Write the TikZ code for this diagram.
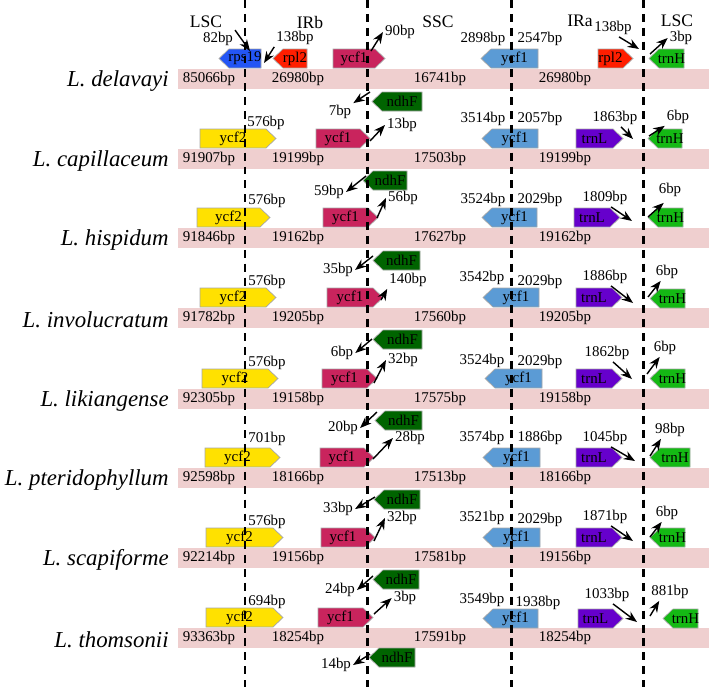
\documentclass[tikz,border=0pt]{standalone}
\usepackage{fontspec}
\setmainfont{Liberation Serif}
\usetikzlibrary{arrows.meta}

\definecolor{rpsblue}{RGB}{35,85,245}
\definecolor{rplred}{RGB}{255,30,0}
\definecolor{ycfred}{RGB}{201,36,93}
\definecolor{ycfblue}{RGB}{91,155,213}
\definecolor{ycftwo}{RGB}{255,225,0}
\definecolor{trnpurple}{RGB}{102,0,204}
\definecolor{trngreen}{RGB}{20,185,20}
\definecolor{ndhgreen}{RGB}{0,100,0}
\definecolor{barpink}{RGB}{239,207,207}

\tikzset{
    genebox/.style={draw=gray!70, line width=0.4pt},
    genetext/.style={font=\fontsize{8.5}{9}\selectfont, inner sep=0pt},
    bp/.style={font=\fontsize{8.5}{10}\selectfont, inner sep=1pt},
    region/.style={font=\fontsize{10}{12}\selectfont},
    species/.style={font=\fontsize{13}{15}\selectfont\itshape, anchor=east, inner sep=0pt},
    bparrow/.style={-{Stealth[length=6.5pt,width=5pt]}, line width=0.8pt},
    border/.style={line width=1.7pt, dash pattern=on 4.5pt off 3.4pt},
}

% gene pointing right: name, x left, x right, y top, colour, text
\newcommand{\geneR}[6]{%
    \draw[genebox, fill=#5] (#2,#4) -- ({#3-10},#4) -- (#3,{#4+9.5}) -- ({#3-10},{#4+19}) -- (#2,{#4+19}) -- cycle;
    \node[genetext] (#1) at ({(#2+#3-10)/2},{#4+9.5}) {#6};
}
% gene pointing left
\newcommand{\geneL}[6]{%
    \draw[genebox, fill=#5] (#3,#4) -- ({#2+10},#4) -- (#2,{#4+9.5}) -- ({#2+10},{#4+19}) -- (#3,{#4+19}) -- cycle;
    \node[genetext] (#1) at ({(#2+10+#3)/2},{#4+9.5}) {#6};
}

\begin{document}
\begin{tikzpicture}[x=0.02cm, y=-0.02cm]
    \useasboundingbox (0,0) rectangle (709,687);

    % genome bars and species
    \foreach \y/\sp in {79/delavayi, 159/capillaceum, 238/hispidum, 318/involucratum,
                        399/likiangense, 478/pteridophyllum, 558/scapiforme, 638/thomsonii} {
        \fill[barpink] (178,{\y-10}) rectangle (709,{\y+10});
        \node[species] (sp\y) at (169,{\y+2}) {L. \sp};
    }
    % region lengths
    \foreach \y/\a/\b/\c/\d in {79/85066/26980/16741/26980, 159/91907/19199/17503/19199,
                                238/91846/19162/17627/19162, 318/91782/19205/17560/19205,
                                399/92305/19158/17575/19158, 478/92598/18166/17513/18166,
                                558/92214/19156/17581/19156, 638/93363/18254/17591/18254} {
        \node[bp] (lsc\y) at (209,\y) {\a bp};
        \node[bp] (irb\y) at (298,\y) {\b bp};
        \node[bp] (ssc\y) at (440,\y) {\c bp};
        \node[bp] (ira\y) at (565,\y) {\d bp};
    }

    % region names
    \node[region] (hlsca) at (206,22) {LSC};
    \node[region] (hirb) at (310,22) {IRb};
    \node[region] (hssc) at (438,22) {SSC};
    \node[region] (hira) at (580,21) {IRa};
    \node[region] (hlscb) at (677,21) {LSC};

    % L. delavayi
    \geneL{r1rps}{219}{261}{49}{rpsblue}{rps19}
    \geneL{r1rplb}{273}{307}{49}{rplred}{rpl2}
    \geneR{r1ycfb}{333}{385}{49}{ycfred}{ycf1}
    \geneL{r1ycfa}{481}{538}{49}{ycfblue}{ycf1}
    \geneR{r1rpla}{598}{633}{49}{rplred}{rpl2}
    \geneL{r1trnH}{649}{684}{49}{trngreen}{trnH}
    \geneL{r1ndhF}{372}{422}{92}{ndhgreen}{ndhF}
    \node[bp] (r1jlb) at (218,39) {82bp};
    \coordinate (r1tlb) at (250,51);
    \draw[bparrow] (r1jlb.north east) -- (r1tlb);
    \node[bp] (r1jbx) at (295,38) {138bp};
    \coordinate (r1tbx) at (264,63);
    \draw[bparrow] (r1jbx.south west) -- (r1tbx);
    \node[bp] (r1jbs) at (400,32) {90bp};
    \coordinate (r1tbs) at (371,51);
    \draw[bparrow] (r1tbs) -- (r1jbs.west);
    \node[bp] (r1jsn) at (340,112) {7bp};
    \coordinate (r1tsn) at (370,92);
    \draw[bparrow] (r1tsn) -- (r1jsn.north east);
    \node[bp] (r1jsa) at (483,39) {2898bp};
    \node[bp] (r1jas) at (540,39) {2547bp};
    \node[bp] (r1jal) at (613,28) {138bp};
    \coordinate (r1tal) at (639,49);
    \draw[bparrow] ([xshift=0.12cm]r1jal.south) -- (r1tal);
    \node[bp] (r1jla) at (681,38) {3bp};
    \coordinate (r1tla) at (650,54);
    \draw[bparrow] (r1tla) -- (r1jla.west);

    % L. capillaceum
    \geneR{r2ycft}{200}{276}{129}{ycftwo}{ycf2}
    \geneR{r2ycfb}{316}{370}{129}{ycfred}{ycf1}
    \geneL{r2ycfa}{482}{538}{129}{ycfblue}{ycf1}
    \geneR{r2trnL}{576}{623}{129}{trnpurple}{trnL}
    \geneL{r2trnH}{648}{682}{129}{trngreen}{trnH}
    \geneL{r2ndhF}{363}{407}{171}{ndhgreen}{ndhF}
    \node[bp] (r2jlb) at (266,123) {576bp};
    \node[bp] (r2jbs) at (402,125) {13bp};
    \coordinate (r2tbs) at (370,141);
    \draw[bparrow] (r2tbs) -- (r2jbs.west);
    \node[bp] (r2jsn) at (329,192) {59bp};
    \coordinate (r2tsn) at (366,176);
    \draw[bparrow] (r2tsn) -- (r2jsn.east);
    \node[bp] (r2jsa) at (483,119) {3514bp};
    \node[bp] (r2jas) at (540,119) {2057bp};
    \node[bp] (r2jal) at (615,118) {1863bp};
    \coordinate (r2tal) at (633,139);
    \draw[bparrow] ([xshift=0.12cm]r2jal.south) -- (r2tal);
    \node[bp] (r2jla) at (678,117) {6bp};
    \coordinate (r2tla) at (649,136);
    \draw[bparrow] (r2tla) -- (r2jla.south west);

    % L. hispidum
    \geneR{r3ycft}{197}{270}{208}{ycftwo}{ycf2}
    \geneR{r3ycfb}{323}{378}{208}{ycfred}{ycf1}
    \geneL{r3ycfa}{482}{537}{208}{ycfblue}{ycf1}
    \geneR{r3trnL}{574}{620}{208}{trnpurple}{trnL}
    \geneL{r3trnH}{648}{683}{208}{trngreen}{trnH}
    \geneL{r3ndhF}{373}{420}{251}{ndhgreen}{ndhF}
    \node[bp] (r3jlb) at (267,201) {576bp};
    \node[bp] (r3jbs) at (403,198) {56bp};
    \coordinate (r3tbs) at (377,218);
    \draw[bparrow] (r3tbs) -- (r3jbs.west);
    \node[bp] (r3jsn) at (338,270) {35bp};
    \coordinate (r3tsn) at (373,256);
    \draw[bparrow] (r3tsn) -- (r3jsn.east);
    \node[bp] (r3jsa) at (483,200) {3524bp};
    \node[bp] (r3jas) at (540,200) {2029bp};
    \node[bp] (r3jal) at (605,198) {1809bp};
    \coordinate (r3tal) at (632,221);
    \draw[bparrow] ([xshift=0.12cm]r3jal.south) -- (r3tal);
    \node[bp] (r3jla) at (670,190) {6bp};
    \coordinate (r3tla) at (648,217);
    \draw[bparrow] (r3tla) -- ([xshift=0.14cm,yshift=-0.08cm]r3jla.south west);

    % L. involucratum
    \geneR{r4ycft}{200}{276}{288}{ycftwo}{ycf2}
    \geneR{r4ycfb}{327}{383}{288}{ycfred}{ycf1}
    \geneL{r4ycfa}{483}{539}{288}{ycfblue}{ycf1}
    \geneR{r4trnL}{576}{622}{288}{trnpurple}{trnL}
    \geneL{r4trnH}{650}{685}{289}{trngreen}{trnH}
    \geneL{r4ndhF}{373}{422}{330}{ndhgreen}{ndhF}
    \node[bp] (r4jlb) at (267,282) {576bp};
    \node[bp] (r4jbs) at (408,280) {140bp};
    \coordinate (r4tbs) at (381,300);
    \draw[bparrow] (r4tbs) -- (r4jbs.south west);
    \node[bp] (r4jsn) at (342,353) {6bp};
    \coordinate (r4tsn) at (372,339);
    \draw[bparrow] (r4tsn) -- (r4jsn.east);
    \node[bp] (r4jsa) at (482,278) {3542bp};
    \node[bp] (r4jas) at (540,282) {2029bp};
    \node[bp] (r4jal) at (605,277) {1886bp};
    \coordinate (r4tal) at (633,303);
    \draw[bparrow] ([xshift=0.12cm]r4jal.south) -- (r4tal);
    \node[bp] (r4jla) at (667,272) {6bp};
    \coordinate (r4tla) at (648,297);
    \draw[bparrow] (r4tla) -- ([xshift=0.14cm]r4jla.south west);

    % L. likiangense
    \geneR{r5ycft}{202}{278}{369}{ycftwo}{ycf2}
    \geneR{r5ycfb}{322}{377}{369}{ycfred}{ycf1}
    \geneL{r5ycfa}{485}{542}{369}{ycfblue}{ycf1}
    \geneR{r5trnL}{576}{622}{369}{trnpurple}{trnL}
    \geneL{r5trnH}{650}{685}{369}{trngreen}{trnH}
    \geneL{r5ndhF}{375}{422}{411}{ndhgreen}{ndhF}
    \node[bp] (r5jlb) at (267,363) {576bp};
    \node[bp] (r5jbs) at (403,360) {32bp};
    \coordinate (r5tbs) at (374,383);
    \draw[bparrow] (r5tbs) -- (r5jbs.west);
    \node[bp] (r5jsn) at (343,428) {20bp};
    \coordinate (r5tsn) at (377,412);
    \draw[bparrow] (r5tsn) -- (r5jsn.east);
    \node[bp] (r5jsa) at (482,361) {3524bp};
    \node[bp] (r5jas) at (540,362) {2029bp};
    \node[bp] (r5jal) at (607,353) {1862bp};
    \coordinate (r5tal) at (632,379);
    \draw[bparrow] ([xshift=0.12cm]r5jal.south) -- (r5tal);
    \node[bp] (r5jla) at (665,348) {6bp};
    \coordinate (r5tla) at (647,374);
    \draw[bparrow] (r5tla) -- ([xshift=0.16cm]r5jla.south west);

    % L. pteridophyllum
    \geneR{r6ycft}{205}{280}{448}{ycftwo}{ycf2}
    \geneR{r6ycfb}{320}{374}{448}{ycfred}{ycf1}
    \geneL{r6ycfa}{483}{540}{448}{ycfblue}{ycf1}
    \geneR{r6trnL}{576}{622}{448}{trnpurple}{trnL}
    \geneL{r6trnH}{650}{690}{448}{trngreen}{trnH}
    \geneL{r6ndhF}{374}{420}{490}{ndhgreen}{ndhF}
    \node[bp] (r6jlb) at (267,439) {701bp};
    \node[bp] (r6jbs) at (410,438) {28bp};
    \coordinate (r6tbs) at (373,459);
    \draw[bparrow] (r6tbs) -- (r6jbs.west);
    \node[bp] (r6jsn) at (338,509) {33bp};
    \coordinate (r6tsn) at (375,497);
    \draw[bparrow] (r6tsn) -- (r6jsn.east);
    \node[bp] (r6jsa) at (482,438) {3574bp};
    \node[bp] (r6jas) at (540,438) {1886bp};
    \node[bp] (r6jal) at (605,438) {1045bp};
    \coordinate (r6tal) at (635,461);
    \draw[bparrow] ([xshift=0.12cm]r6jal.south) -- (r6tal);
    \node[bp] (r6jla) at (670,430) {98bp};
    \coordinate (r6tla) at (650,456);
    \draw[bparrow] (r6tla) -- ([xshift=0.16cm]r6jla.south west);

    % L. scapiforme
    \geneR{r7ycft}{206}{283}{528}{ycftwo}{ycf2}
    \geneR{r7ycfb}{321}{375}{528}{ycfred}{ycf1}
    \geneL{r7ycfa}{483}{540}{528}{ycfblue}{ycf1}
    \geneR{r7trnL}{576}{622}{528}{trnpurple}{trnL}
    \geneL{r7trnH}{650}{685}{528}{trngreen}{trnH}
    \geneL{r7ndhF}{373}{419}{570}{ndhgreen}{ndhF}
    \node[bp] (r7jlb) at (267,522) {576bp};
    \node[bp] (r7jbs) at (402,518) {32bp};
    \coordinate (r7tbs) at (374,541);
    \draw[bparrow] (r7tbs) -- (r7jbs.west);
    \node[bp] (r7jsn) at (340,590) {24bp};
    \coordinate (r7tsn) at (373,576);
    \draw[bparrow] (r7tsn) -- (r7jsn.east);
    \node[bp] (r7jsa) at (482,518) {3521bp};
    \node[bp] (r7jas) at (540,520) {2029bp};
    \node[bp] (r7jal) at (605,517) {1871bp};
    \coordinate (r7tal) at (633,541);
    \draw[bparrow] ([xshift=0.12cm]r7jal.south) -- (r7tal);
    \node[bp] (r7jla) at (667,513) {6bp};
    \coordinate (r7tla) at (650,537);
    \draw[bparrow] (r7tla) -- ([xshift=0.16cm]r7jla.south west);

    % L. thomsonii
    \geneR{r8ycft}{206}{283}{608}{ycftwo}{ycf2}
    \geneR{r8ycfb}{318}{373}{608}{ycfred}{ycf1}
    \geneL{r8ycfa}{483}{538}{609}{ycfblue}{ycf1}
    \geneR{r8trnL}{578}{623}{609}{trnpurple}{trnL}
    \geneL{r8trnH}{663}{698}{609}{trngreen}{trnH}
    \geneL{r8ndhF}{369}{415}{648}{ndhgreen}{ndhF}
    \node[bp] (r8jlb) at (267,602) {694bp};
    \node[bp] (r8jbs) at (405,598) {3bp};
    \coordinate (r8tbs) at (374,614);
    \draw[bparrow] (r8tbs) -- (r8jbs.west);
    \node[bp] (r8jsn) at (336,665) {14bp};
    \coordinate (r8tsn) at (370,654);
    \draw[bparrow] (r8tsn) -- (r8jsn.east);
    \node[bp] (r8jsa) at (482,600) {3549bp};
    \node[bp] (r8jas) at (538,603) {1938bp};
    \node[bp] (r8jal) at (607,595) {1033bp};
    \coordinate (r8tal) at (637,622);
    \draw[bparrow] ([xshift=0.12cm]r8jal.south) -- (r8tal);
    \node[bp] (r8jla) at (670,592) {881bp};
    \coordinate (r8tla) at (650,616);
    \draw[bparrow] (r8tla) -- ([xshift=0.2cm]r8jla.south west);

    % junction lines
    \foreach \x in {245,367,511,643} {
        \draw[border] (\x,0) -- (\x,687);
    }
\end{tikzpicture}
\end{document}
